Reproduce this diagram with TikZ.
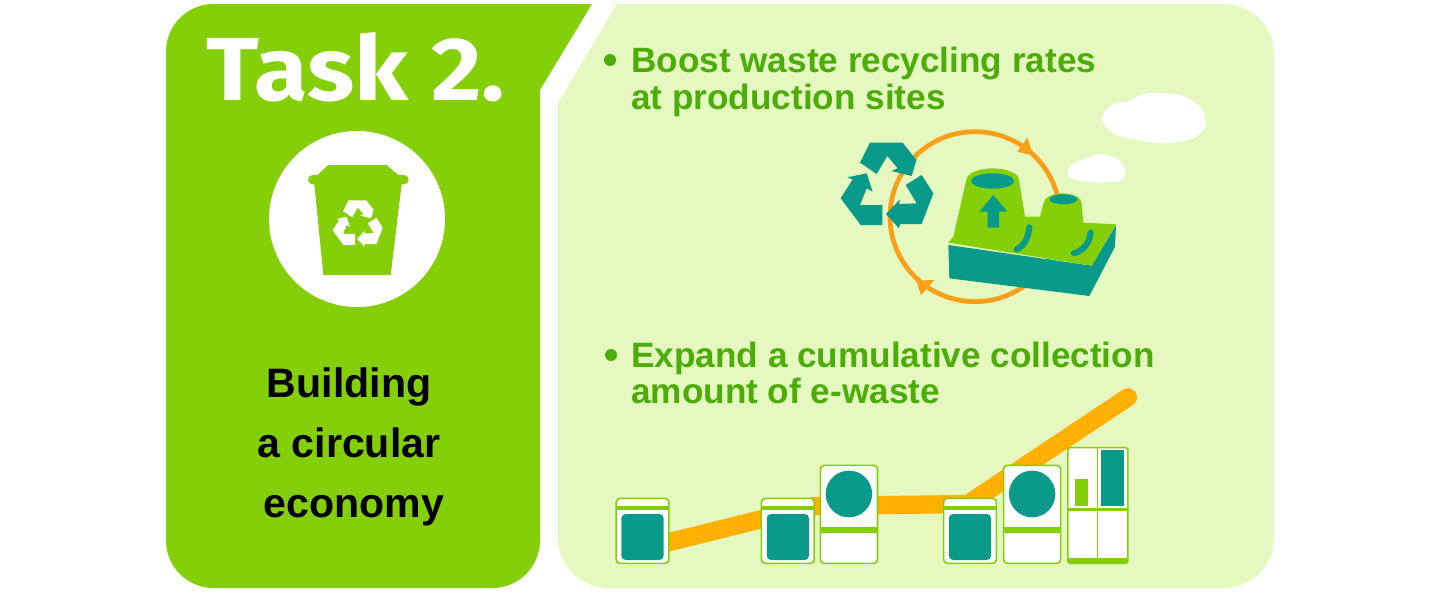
\documentclass[tikz,border=0pt]{standalone}
\usepackage{fontspec}
\setmainfont{Liberation Sans}
\newfontfamily\titlefont{Fira Sans}[FakeStretch=1.09]
\newfontfamily\medfont{Liberation Sans}
\definecolor{leaf}{HTML}{84CF08}
\definecolor{pale}{HTML}{E4F8C0}
\definecolor{headgreen}{HTML}{4CAD08}
\definecolor{teal2}{HTML}{0A9A8A}
\definecolor{ringor}{HTML}{F9A01B}
\definecolor{lineor}{HTML}{FFB000}
\tikzset{
  zoomA/.style={shift={(820,90)},x=0.02cm/3,y=-0.02cm/3},
  zoomB/.style={shift={(600,380)},x=0.02cm/2.8,y=-0.02cm/3},
  zoomC/.style={shift={(260,125)},x=0.02cm/3,y=-0.02cm/3},
  headtext/.style={anchor=base west,inner sep=0pt,text=headgreen,font=\medfont\bfseries\fontsize{20}{20}\selectfont},
  blacktext/.style={anchor=base,inner sep=0pt,text=black,font=\medfont\bfseries\fontsize{23.4}{23.4}\selectfont},
  appbody/.style={fill=white,draw=leaf,line width=0.9pt,rounded corners=2.2pt}
}
\newcommand{\recycleicon}[1]{%
  \fill[#1] (120,218) -- (150,158) -- (248,158) -- (285,205) -- (290,208) -- (275,258) -- (215,243) -- (233,235) -- (202,198) -- (170,252) -- cycle;
  \fill[#1] (62,325) -- (98,268) -- (82,262) -- (140,250) -- (158,305) -- (140,295) -- (120,345) -- (187,345) -- (187,405) -- (122,405) -- cycle;
  \fill[#1] (257,285) -- (305,255) -- (340,310) -- (305,402) -- (240,402) -- (237,415) -- (198,372) -- (240,328) -- (237,342) -- (290,340) -- cycle;
}
\newcommand{\washer}[1]{%
  \draw[appbody,shift={(#1,0)}] (45,355) rectangle (193,550);
  \fill[leaf,shift={(#1,0)}] (45,377) rectangle (193,390);
  \fill[teal2,rounded corners=2.4pt,shift={(#1,0)}] (60,402) rectangle (178,540);
}
\newcommand{\dryer}[1]{%
  \draw[appbody,shift={(#1,0)}] (617,256) rectangle (777,550);
  \fill[leaf,shift={(#1,0)}] (617,440) rectangle (777,458);
  \fill[teal2,shift={(#1,0)}] (697,342) ellipse [x radius=65,y radius=70];
}
\begin{document}
\begin{tikzpicture}[x=0.02cm,y=-0.02cm]
\useasboundingbox (0,0) rectangle (1440,593);
\fill[white] (0,0) rectangle (1440,593);
% panels
\fill[leaf] (592,4) -- (540,90) [rounded corners=0.95cm] -- (540,588) -- (166,588) -- (166,4) [sharp corners] -- cycle;
\fill[pale] (617,4) [rounded corners=1cm] -- (1274,4) -- (1274,588) -- (558,588) [sharp corners] -- (558,103) -- cycle;
% title
\node[anchor=base,inner sep=0pt,text=white,font=\titlefont\bfseries\fontsize{51}{51}\selectfont] (title) at (356,100) {Task 2.};
% bin
\fill[white] (357,219) circle (88);
\begin{scope}[zoomC]
\fill[leaf] (205,120) -- (380,120) -- (415,150) -- (432,150) arc (-90:90:14) -- (425,178) -- (392,450) -- (190,450) -- (163,178) -- (158,178) arc (90:270:14) -- (172,150) -- cycle;
\end{scope}
\begin{scope}[shift={(321.5,171.85)},x=0.0036cm,y=-0.0036cm]
\recycleicon{white}
\end{scope}
\node[blacktext] (b1) at (349,397) {Building};
\node[blacktext] (b2) at (349,457) {a circular};
\node[blacktext] (b3) at (354,517) {economy};
% text on right
\fill[headgreen] (610,60) circle (6);
\node[headtext] (h1) at (631,72) {Boost waste recycling rates};
\node[headtext] (h2) at (631,109) {at production sites};
\fill[headgreen] (611,355) circle (6);
\node[headtext] (h3) at (631,367) {Expand a cumulative collection};
\node[headtext] (h4) at (631,403) {amount of e-waste};
% recycling illustration
\begin{scope}[zoomA]
\fill[white] plot[smooth cycle] coordinates {(845,85) (880,42) (920,35) (980,10) (1080,15) (1140,50) (1158,105) (1120,145) (1040,160) (950,150) (880,130)};
\fill[white] plot[smooth cycle] coordinates {(742,240) (770,215) (800,205) (840,193) (890,205) (915,240) (905,270) (840,278) (780,272) (750,262)};
\draw[ringor,line width=2.7pt] (465,380) circle (255);
\fill[ringor] (622,143) -- (640,197) -- (592,185) -- cycle;
\fill[ringor] (343,570) -- (303,615) -- (288,572) -- cycle;
\recycleicon{teal2}
\fill[teal2] (385,465) -- (815,527) -- (888,405) -- (885,470) -- (808,618) -- (388,565) -- cycle;
\fill[leaf] (385,458) -- (400,440) -- (439,270) arc (-180:0:79 and 35) -- (615,380) -- (660,380) -- (671,340) arc (-180:0:57 and 30) -- (790,398) -- (888,403) -- (815,527) -- cycle;
\fill[teal2] (518,273) ellipse [x radius=65,y radius=23];
\fill[teal2] (730,328) ellipse [x radius=42,y radius=15];
\fill[teal2] (520,315) -- (478,365) -- (503,365) -- (503,413) -- (537,413) -- (537,365) -- (562,365) -- cycle;
\draw[teal2,line width=3.5pt,line cap=round] (628,412) .. controls (625,445) and (610,470) .. (590,478);
\draw[teal2,line width=3.5pt,line cap=round] (812,428) .. controls (808,460) and (790,482) .. (762,490);
\end{scope}
% chart
\begin{scope}[zoomB]
\draw[lineor,line width=10.4pt,line cap=round,line join=round] (180,490) -- (600,378) -- (1030,372) -- (1478,52);
\washer{0}
\washer{407}
\washer{917}
\dryer{0}
\dryer{513}
\draw[appbody,rounded corners=1pt] (1310,203) rectangle (1478,550);
\draw[leaf,line width=0.6pt] (1393,203) -- (1393,540);
\fill[leaf] (1310,385) rectangle (1478,392);
\fill[leaf] (1310,534) rectangle (1478,550);
\fill[teal2] (1403,210) rectangle (1468,378);
\fill[leaf] (1330,298) rectangle (1366,378);
\end{scope}
\end{tikzpicture}
\end{document}
